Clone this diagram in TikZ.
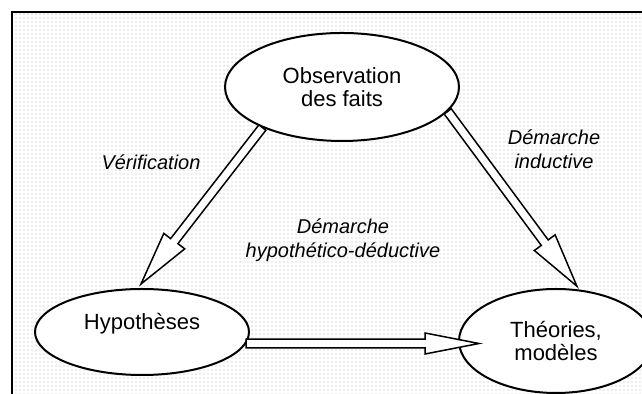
\documentclass[tikz,border=0pt]{standalone}
\usepackage{fontspec}
\setmainfont{Liberation Sans}
\usetikzlibrary{shapes.geometric, calc, patterns.meta}

\tikzstyle{bubble} = [ellipse, draw=black, fill=white, line width=1pt, inner sep=0pt, align=center]
\tikzstyle{remark} = [font=\itshape, align=center]
\tikzstyle{hollow} = [draw=black, fill=white, line width=0.75pt, line join=miter]
\tikzstyle{frame} = [draw=black, line width=1pt, pattern={Dots[distance=2pt, radius=0.3pt]}, pattern color=gray!60]

% hollow block arrow: from, to, half width of the head
\newcommand{\blockarrow}[3]{%
  \draw [hollow] let \p1=(#1), \p2=(#2),
      \n1={atan2(\y2-\y1,\x2-\x1)}, \n2={veclen(\x2-\x1,\y2-\y1)} in
    ($(\p1)+(\n1+90:2.2pt)$) -- ++(\n1:\n2-27pt) -- ++(\n1+90:#3-2.2pt)
    -- (\p2) -- ($(\p2)+(\n1:-27pt)+(\n1-90:#3)$) -- ++(\n1+90:#3-2.2pt)
    -- ($(\p1)+(\n1-90:2.2pt)$) -- cycle;}

\begin{document}
\begin{tikzpicture}[x=0.5pt, y=0.5pt, font=\fontsize{11}{11.5}\selectfont]
    \useasboundingbox (0,0) rectangle (642,394);
    \clip (0,0) rectangle (642,394);
    \draw [frame] (12,382) rectangle (660,-20);

    \node (obs) [bubble, minimum width=117pt, minimum height=54pt] at (342,307) {Observation\\des faits};
    \node (hyp) [bubble, minimum width=107pt, minimum height=43pt, text depth=11pt] at (142,62) {Hypothèses};
    \node (theo) [bubble, minimum width=97pt, minimum height=52pt] at (556,53) {Théories,\\modèles};

    \node (verif) [remark] at (151,232) {Vérification};
    \node (induc) [remark] at (554,245) {Démarche\\inductive};
    \node (deduc) [remark] at (343,154) {Démarche\\hypothético-déductive};

    \coordinate (verTip) at ([xshift=-0.5pt, yshift=2pt]hyp.north);
    \coordinate (indTip) at ([yshift=1.5pt]theo.68);
    \coordinate (hypOut) at ([xshift=-2pt, yshift=-5.75pt]hyp.east);
    \coordinate (theoEdge) at (hypOut -| theo.west);
    \coordinate (theoIn) at ([xshift=10.5pt]theoEdge);

    \blockarrow{obs.207}{verTip}{6.5pt}
    \blockarrow{obs.-13}{indTip}{6.5pt}
    \blockarrow{hypOut}{theoIn}{5.25pt}
\end{tikzpicture}
\end{document}
